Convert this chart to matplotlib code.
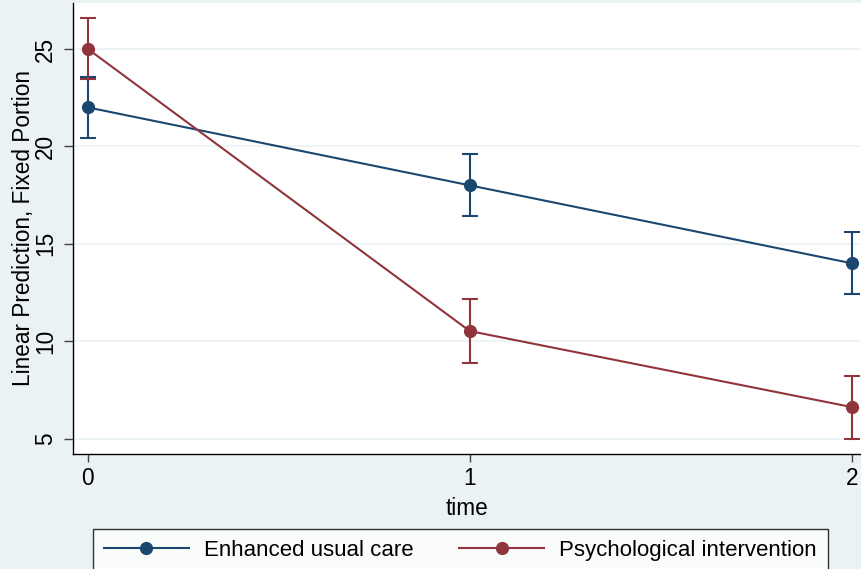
import matplotlib
matplotlib.use("Agg")
import matplotlib.pyplot as plt
from matplotlib.lines import Line2D

plt.rcParams['font.family'] = ['Liberation Sans', 'DejaVu Sans']

# data
time = [0, 1, 2]
usual_care = [22.0, 18.0, 14.0]
usual_lo = [20.45, 16.43, 12.42]
usual_hi = [23.56, 19.6, 15.6]
psych = [25.0, 10.52, 6.62]
psych_lo = [23.45, 8.88, 4.98]
psych_hi = [26.6, 12.17, 8.22]
series_names = ["Enhanced usual care", "Psychological intervention"]
yticks = [5, 10, 15, 20, 25]

NAVY = "#1a476f"
MAROON = "#90353b"
BG = "#eaf2f3"

fig = plt.figure(figsize=(8.62, 5.69), dpi=100, facecolor=BG)
ax = fig.add_axes([73/862, 1 - 454/569, 1 - 73/862, (454 - 3)/569])
ax.set_facecolor("white")

for y, lo, hi, col in [(usual_care, usual_lo, usual_hi, NAVY),
                       (psych, psych_lo, psych_hi, MAROON)]:
    err = [[v - l for v, l in zip(y, lo)], [h - v for v, h in zip(y, hi)]]
    ax.errorbar(time, y, yerr=err, color=col, lw=1.5, marker="o", ms=8.5,
                capsize=5.5, capthick=1.5, elinewidth=1.5, zorder=3)

ax.set_xlim(-0.039, 2.027)
ax.set_ylim(4.21, 27.36)
ax.set_xticks(time)
ax.set_yticks(yticks)
ax.yaxis.grid(True, color=BG, lw=1.2)
ax.set_axisbelow(True)

for s in ["top", "right"]:
    ax.spines[s].set_visible(False)
for s in ["left", "bottom"]:
    ax.spines[s].set_color("black")
    ax.spines[s].set_linewidth(1.0)

ax.tick_params(axis="y", length=6.5, width=1, color="#444444", labelsize=16.3,
               labelrotation=90, pad=5)
ax.tick_params(axis="x", length=5.5, width=1, color="#444444", labelsize=16.3, pad=4)
for lab in ax.get_yticklabels():
    lab.set_verticalalignment("center")

ax.set_xlabel("time", fontsize=16.3, labelpad=5)
ax.set_ylabel("Linear Prediction, Fixed Portion", fontsize=16.3)
ax.yaxis.set_label_coords(-38/789, 0.5)

handles = [Line2D([], [], color=NAVY, lw=1.5, marker="o", ms=8.5),
           Line2D([], [], color=MAROON, lw=1.5, marker="o", ms=8.5)]
leg = fig.legend(handles, series_names, loc="upper left", ncol=2,
                 bbox_to_anchor=(93/862, 1 - 529/569), fontsize=16,
                 frameon=True, fancybox=False, edgecolor="black",
                 handlelength=3.8, handletextpad=0.7, columnspacing=2.05,
                 borderpad=0.5, borderaxespad=0)
leg.get_frame().set_linewidth(1.0)

fig.savefig("out.png", dpi=100, facecolor=BG)
